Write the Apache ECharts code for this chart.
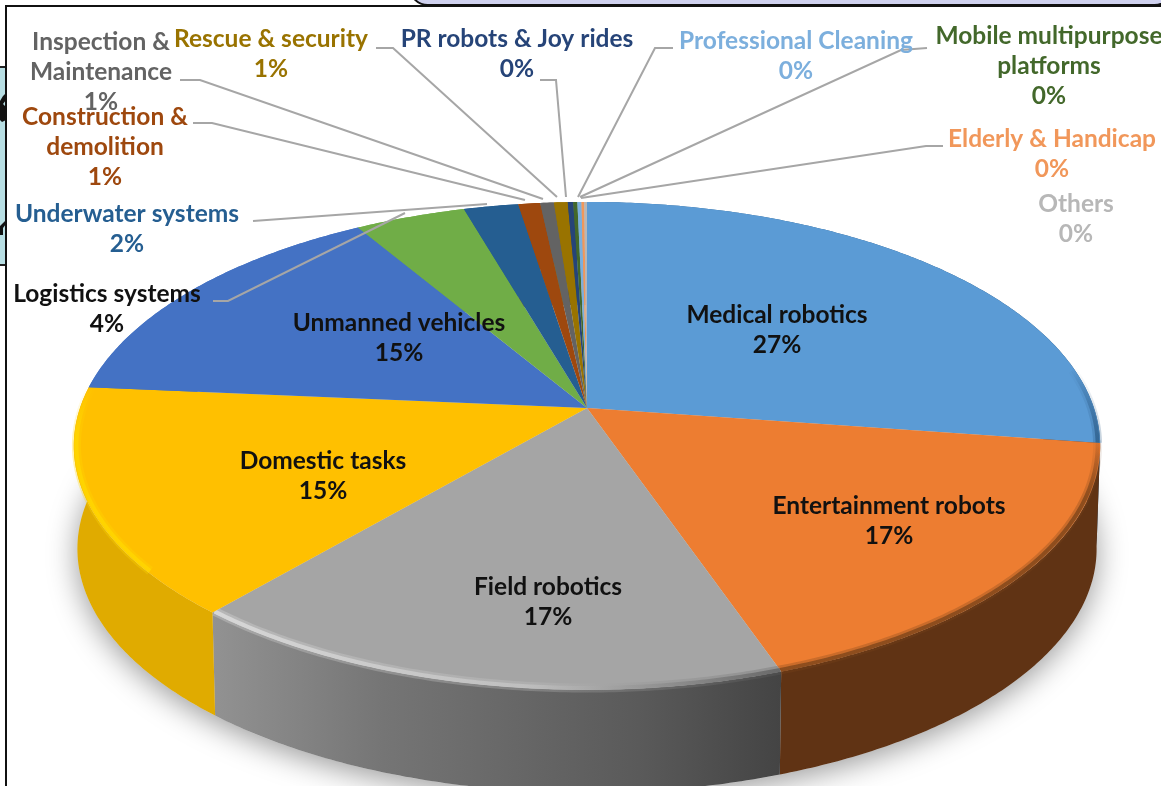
<!DOCTYPE html>
<html>
<head>
<meta charset="utf-8">
<title>Robotics market share</title>
<script src="https://cdn.jsdelivr.net/npm/echarts@6/dist/echarts.min.js"></script>
<style>
  html, body { margin: 0; padding: 0; background: #fff; overflow: hidden; }
  #chart { width: 1161px; height: 786px; }
</style>
</head>
<body>
<div id="chart"></div>
<script>
// slices, clockwise from 12 o'clock
const categories = [
  'Medical robotics', 'Entertainment robots', 'Field robotics', 'Domestic tasks',
  'Unmanned vehicles', 'Logistics systems', 'Underwater systems', 'Construction &\ndemolition',
  'Inspection &\nMaintenance', 'Rescue & security', 'PR robots & Joy rides',
  'Mobile multipurpose\nplatforms', 'Professional Cleaning', 'Elderly & Handicap', 'Others'
]
const shares = [27.3, 17.4, 16.6, 15.1, 15.05, 4.05, 2.0, 0.8, 0.5, 0.5, 0.2, 0.15, 0.15, 0.1, 0.1]
const sliceColors = [
  '#5B9BD5', '#ED7D31', '#A5A5A5', '#FFC000', '#4472C4', '#70AD47', '#255E91', '#9E480E',
  '#636363', '#997300', '#264478', '#43682B', '#7CAFDD', '#F1975A', '#B7B7B7'
]

// label centre per slice and its text colour
const labelPos = [
  [777, 330], [889, 521], [548, 602], [323, 476], [399, 338], [107, 309], [127, 229], [105, 147],
  [101, 72], [271, 54], [517, 54], [1049, 66], [796, 56], [1052, 154], [1076, 219]
]
const labelColors = [
  '#111', '#111', '#111', '#111', '#111', '#111', '#255E91', '#9E480E',
  '#636363', '#997300', '#264478', '#43682B', '#7CAFDD', '#F1975A', '#B7B7B7'
]
const leaderLines = [
  [[213, 301], [228, 301], [405, 213]],
  [[253, 221], [487, 204]],
  [[193, 123], [212, 123], [525, 200]],
  [[180, 80], [200, 80], [543, 199]],
  [[376, 48], [393, 48], [557, 197]],
  [[540, 80], [556, 80], [566, 197]],
  [[673, 48], [655, 48], [578, 197]],
  [[927, 48], [901, 50], [580, 197]],
  [[943, 146], [926, 146], [581, 198]]
]

// perspective disc
const cx = 587
const cy = 408
const A = 507
const B = 238
const P = 0.155
const DEPTH = 103

function project(theta, r) {
  const u = r * Math.sin(theta)
  const v = -r * Math.cos(theta)
  const w = 1 - P * v
  return [cx + A * u / w, cy + B * v / w]
}
function lower(theta) {
  const p = project(theta, 1)
  return [cx + (p[0] - cx) * 0.993, p[1] + DEPTH]
}
function arcPoints(a0, a1, fn) {
  const n = Math.max(2, Math.ceil((a1 - a0) / 0.01))
  const pts = []
  for (let i = 0; i <= n; i++) pts.push(fn(a0 + (a1 - a0) * i / n))
  return pts
}

const total = shares.reduce((s, v) => s + v, 0)
let acc = 0
const slices = shares.map(v => {
  const a0 = acc / total * Math.PI * 2
  acc += v
  return [a0, acc / total * Math.PI * 2]
})

const hGrad = stops => new echarts.graphic.LinearGradient(0, 0, 1, 0, stops)
const vGrad = stops => new echarts.graphic.LinearGradient(0, 0, 0, 1, stops)
const wallFill = {
  0: hGrad([{ offset: 0, color: '#2f6a9f' }, { offset: 1, color: '#1f4a72' }]),
  1: '#603314',
  2: hGrad([{ offset: 0, color: '#929292' }, { offset: 0.3, color: '#757575' }, { offset: 0.75, color: '#5a5a5a' }, { offset: 1, color: '#444' }]),
  3: '#E0AB00'
}
// bevel along the front rim: stroke, and where on the slice it starts
const rimStroke = {
  0: { from: 0.82, stroke: vGrad([{ offset: 0, color: 'rgba(38,80,120,0)' }, { offset: 1, color: '#2a5a85' }]) },
  1: { from: 0, stroke: vGrad([{ offset: 0, color: 'rgba(96,51,20,0.1)' }, { offset: 0.25, color: '#7a4319' }, { offset: 1, color: '#7a4319' }]) },
  2: { from: 0, stroke: hGrad([{ offset: 0, color: '#e2e2e2' }, { offset: 0.55, color: '#c4c4c4' }, { offset: 0.8, color: '#8a8a8a' }, { offset: 1, color: '#5c5c5c' }]) },
  3: { from: 0.2, stroke: vGrad([{ offset: 0, color: 'rgba(255,216,0,0)' }, { offset: 0.3, color: '#FFD800' }, { offset: 1, color: '#FFD800' }]) }
}

const chart = echarts.init(document.getElementById('chart'))

chart.setOption({
  animation: false,
  backgroundColor: '#fff',
  graphic: [
    { type: 'rect', shape: { x: 0, y: 67, width: 6, height: 198 }, style: { fill: '#B7DEE3' } },
    { type: 'rect', shape: { x: 0, y: 66, width: 6, height: 2 }, style: { fill: '#222' } },
    { type: 'rect', shape: { x: 0, y: 264, width: 6, height: 2 }, style: { fill: '#222' } },
    { type: 'polygon', shape: { points: [[0, 101], [3, 96], [6, 93], [6, 100], [3, 104], [6, 107], [6, 120], [2, 122], [0, 120]] }, style: { fill: '#111' } },
    { type: 'polygon', shape: { points: [[0, 226], [6, 220], [6, 224], [3, 228], [3, 235], [0, 235]] }, style: { fill: '#111' } },
    { type: 'rect', shape: { x: 5, y: 5, width: 2, height: 781 }, style: { fill: '#111' } },
    { type: 'rect', shape: { x: 5, y: 5, width: 1156, height: 2 }, style: { fill: '#111' } },
    { type: 'rect', shape: { x: 410, y: -30, width: 762, height: 35, r: 18 }, style: { fill: '#CFD1EE', stroke: '#111', lineWidth: 2 } }
  ],
  series: [
    {
      // soft shadow under the whole disc
      type: 'custom',
      coordinateSystem: 'none',
      z: 2,
      data: [0],
      renderItem() {
        return {
          type: 'polygon',
          shape: { points: arcPoints(0, Math.PI * 2, lower) },
          style: { fill: '#ddd', shadowBlur: 30, shadowColor: 'rgba(0,0,0,0.4)', shadowOffsetY: 6 }
        }
      }
    },
    {
      // disc side
      type: 'custom',
      coordinateSystem: 'none',
      z: 3,
      data: shares.map((v, i) => i),
      renderItem(params, api) {
        const i = api.value(0)
        const [a0, a1] = slices[i]
        const rim = arcPoints(a0, a1, t => project(t, 1))
        const low = arcPoints(a0, a1, lower).reverse()
        return {
          type: 'polygon',
          shape: { points: rim.concat(low) },
          style: { fill: wallFill[i] || sliceColors[i] }
        }
      }
    },
    {
      // top faces
      type: 'custom',
      coordinateSystem: 'none',
      z: 4,
      data: shares.map((v, i) => i),
      renderItem(params, api) {
        const i = api.value(0)
        const [a0, a1] = slices[i]
        const rim = arcPoints(a0, a1, t => project(t, 1))
        const children = [{
          type: 'polygon',
          shape: { points: [[cx, cy]].concat(rim) },
          style: { fill: sliceColors[i] }
        }]
        const bevel = rimStroke[i]
        if (bevel) {
          const pts = arcPoints(a0 + (a1 - a0) * bevel.from, a1, t => project(t, 0.995))
          children.push(
            { type: 'polyline', shape: { points: pts }, style: { fill: 'none', stroke: bevel.stroke, lineWidth: 9, opacity: 0.3 } },
            { type: 'polyline', shape: { points: pts }, style: { fill: 'none', stroke: bevel.stroke, lineWidth: 4, opacity: 0.75 } }
          )
        }
        return { type: 'group', children }
      }
    },
    {
      // leader lines
      type: 'custom',
      coordinateSystem: 'none',
      z: 5,
      data: leaderLines.map((v, i) => i),
      renderItem(params, api) {
        return {
          type: 'polyline',
          shape: { points: leaderLines[api.value(0)] },
          style: { fill: 'none', stroke: '#A6A6A6', lineWidth: 2 }
        }
      }
    },
    {
      // labels
      type: 'custom',
      coordinateSystem: 'none',
      z: 6,
      data: shares.map((v, i) => i),
      renderItem(params, api) {
        const i = api.value(0)
        return {
          type: 'text',
          style: {
            x: labelPos[i][0],
            y: labelPos[i][1],
            text: categories[i] + '\n' + Math.round(shares[i]) + '%',
            align: 'center',
            verticalAlign: 'middle',
            fontFamily: 'Lato',
            fontWeight: 'bold',
            fontSize: 24.5,
            lineHeight: 30,
            fill: labelColors[i]
          }
        }
      }
    }
  ]
})
</script>
</body>
</html>
